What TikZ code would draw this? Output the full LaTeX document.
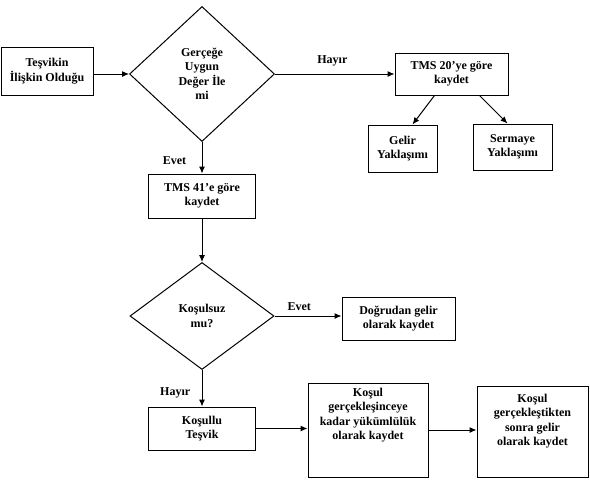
\documentclass[tikz,border=0pt]{standalone}
\usepackage{fontspec}
\setmainfont{Liberation Serif}
\usetikzlibrary{shapes.geometric,arrows.meta}

\begin{document}
\begin{tikzpicture}[x=1pt,y=-1pt]
\tikzset{kutu/.style={draw, line width=1pt, align=center, font=\fontsize{12}{14.5}\selectfont\bfseries, inner sep=2pt},
karar/.style={draw, diamond, line width=1pt, align=center, font=\fontsize{12}{14.5}\selectfont\bfseries, inner sep=1pt},
yazi/.style={align=center, font=\fontsize{12}{14.5}\selectfont\bfseries},
ok/.style={-{Latex[length=7pt,width=6pt]}, line width=1pt}}
\useasboundingbox (0,0) rectangle (590,480);
\node[kutu, minimum width=92pt, minimum height=48pt] (Tes) at (47,71) {Teşvikin\\İlişkin Olduğu};
\node[karar, minimum width=145pt, minimum height=135pt] (D1) at (202,74) {Gerçeğe\\Uygun\\Değer İle\\mi};
\node[kutu, minimum width=113pt, minimum height=42pt] (T20) at (451.5,74) {TMS 20’ye göre\\kaydet};
\node[kutu, minimum width=69pt, minimum height=47pt] (Gel) at (402.5,148.5) {Gelir\\Yaklaşımı};
\node[kutu, minimum width=79pt, minimum height=46pt] (Ser) at (512.5,147) {Sermaye\\Yaklaşımı};
\node[kutu, minimum width=107pt, minimum height=44pt] (T41) at (202,196) {TMS 41’e göre\\kaydet};
\node[karar, minimum width=144pt, minimum height=107pt] (D2) at (202,316) {Koşulsuz\\mu?};
\node[kutu, minimum width=113pt, minimum height=43pt] (Dog) at (398.5,318.5) {Doğrudan gelir\\olarak kaydet};
\node[kutu, minimum width=107pt, minimum height=43pt] (Kos) at (202,428.5) {Koşullu\\Teşvik};
\node[kutu, minimum width=120pt, minimum height=94pt] (K2) at (368,430) {};
\node[yazi, below=2pt] (K2y) at (K2.north) {Koşul\\gerçekleşinceye\\kadar yükümlülük\\olarak kaydet};
\node[kutu, minimum width=111pt, minimum height=91pt] (K3) at (532.5,431.5) {};
\node[yazi, below=5pt] (K3y) at (K3.north) {Koşul\\gerçekleştikten\\sonra gelir\\olarak kaydet};
\draw[ok] (Tes.east |- D1.west) -- (D1.west);
\draw[ok] (D1.east) -- node[yazi, above=4pt, pos=0.48] (L1) {Hayır} (T20.west);
\draw[ok] ([xshift=-17pt]T20.south) -- ([xshift=10pt]Gel.north);
\draw[ok] ([xshift=28pt]T20.south) -- ([xshift=-5pt]Ser.north);
\draw[ok] (D1.south) -- node[yazi, left=12pt, pos=0.6] (L2) {Evet} (T41.north);
\draw[ok] (T41.south) -- (D2.north);
\draw[ok] (D2.east) -- node[yazi, above=2pt, pos=0.37] (L3) {Evet} (D2.east -| Dog.west);
\draw[ok] (D2.south) -- node[yazi, left=8pt, pos=0.62] (L4) {Hayır} (Kos.north);
\draw[ok] (Kos.east) -- (Kos.east -| K2.west);
\draw[ok] (K2.east) -- (K2.east -| K3.west);
\end{tikzpicture}
\end{document}
